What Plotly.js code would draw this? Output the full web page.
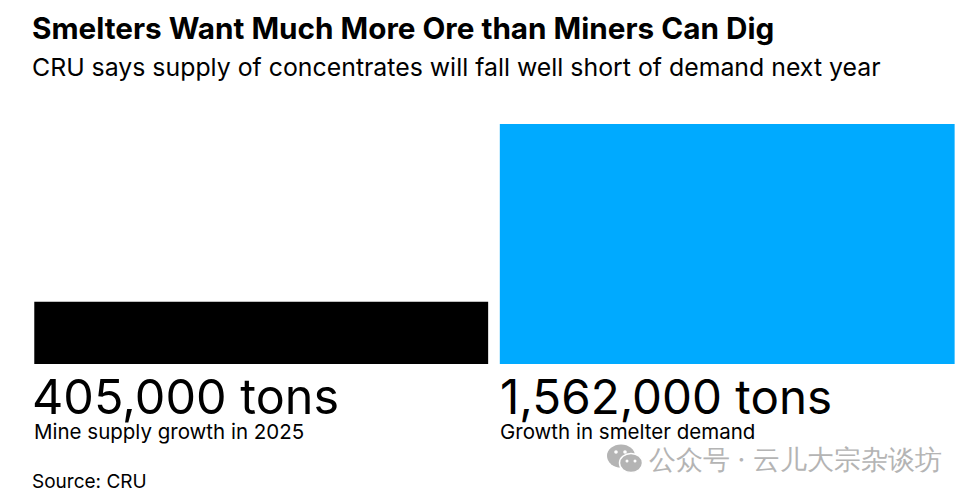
<!DOCTYPE html>
<html><head><meta charset="utf-8">
<script src="https://cdn.plot.ly/plotly-3.0.1.min.js"></script>
<style>html,body{margin:0;padding:0;background:#fff}</style></head>
<body><div id="c" style="width:974px;height:498px"></div>
<script>
const categories=["Mine supply growth in 2025","Growth in smelter demand"];
const values=[405000,1562000];
const valueLabels=["405,000 tons","1,562,000 tons"];
const colors=["#000000","#00aaff"];
const W=974,H=498;
const F="Inter, Liberation Sans, sans-serif";
const ann=[];
function t(text,x,y,size,weight,color){ann.push({text:weight?`<b>${text}</b>`:text,xref:"paper",yref:"paper",x:x/W,y:1-y/H,xanchor:"left",yanchor:"middle",showarrow:false,align:"left",font:{family:F,size:size,color:color||"#000"}});}
t("Smelters Want Much More Ore than Miners Can Dig",29.5,28,29.7,true);
t("CRU says supply of concentrates will fall well short of demand next year",30,67,24.85,false);
const valueX=[30,498];
const labelX=[31.5,498];
const valueSizes=[48.5,47.5];
categories.forEach((c,i)=>{t(valueLabels[i],valueX[i],396,valueSizes[i],false);t(c,labelX[i],431,20.5,false);});
t("Source: CRU",30,481,19,false);
const wmColor="#b4b4b4";
t("公众号 · 云儿大宗杂谈坊",647,459,27,false,wmColor);
const px=x=>x/W, py=y=>1-y/H;
function ell(cx,cy,rx,ry,fill,line){return {type:"circle",xref:"paper",yref:"paper",x0:px(cx-rx),x1:px(cx+rx),y0:py(cy+ry),y1:py(cy-ry),fillcolor:fill,line:{width:line?1.5:0,color:"#fff"}};}
const icon=[ell(621,456,14,11.5,wmColor),ell(631,463,11.5,9.5,wmColor,true),
 ell(616,452,1.8,1.8,"#fff"),ell(625,452,1.8,1.8,"#fff"),ell(627,461,1.5,1.5,"#fff"),ell(635,461,1.5,1.5,"#fff")];
Plotly.newPlot("c",[{type:"bar",x:[0,1],y:values,width:[0.974,0.976],marker:{color:colors,line:{width:0}},hoverinfo:"skip"}],{
 width:W,height:H,margin:{l:0,r:0,t:0,b:0},paper_bgcolor:"#fff",plot_bgcolor:"#fff",showlegend:false,
 xaxis:{domain:[34/W,955/W],range:[-0.4876,1.4888],visible:false,fixedrange:true},
 yaxis:{domain:[1-364/H,1-124/H],range:[0,1562000],visible:false,fixedrange:true},
 annotations:ann,shapes:icon
},{displayModeBar:false,staticPlot:true});
</script></body></html>
